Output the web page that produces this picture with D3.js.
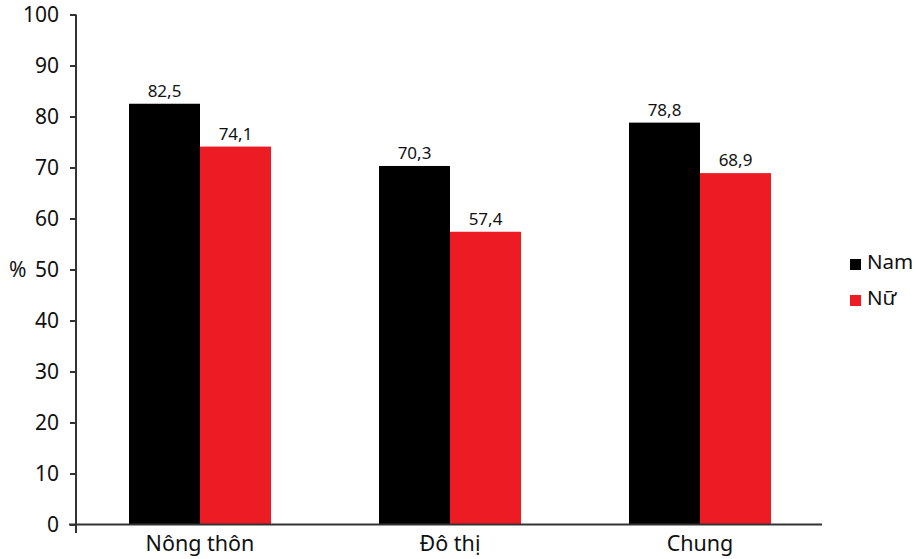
<!DOCTYPE html>
<html><head><meta charset="utf-8">
<script src="https://cdn.jsdelivr.net/npm/d3@7"></script>
<style>body{margin:0;background:#fff}text{font-family:"Noto Sans",sans-serif}</style>
</head><body><svg id="c" width="917" height="559"></svg>
<script>
const categories = ["Nông thôn", "Đô thị", "Chung"];
const seriesNames = ["Nam", "Nữ"];
const namValues = [82.5, 70.3, 78.8];
const nuValues = [74.1, 57.4, 68.9];
const valueLabels = [["82,5","74,1"],["70,3","57,4"],["78,8","68,9"]];
const yTicks = [0,10,20,30,40,50,60,70,80,90,100];
const colors = ["#000000", "#ED1C24"];

const svg = d3.select("#c");
const y = d3.scaleLinear().domain([0,100]).range([524.5,14.5]);
const x0 = d3.scaleBand().domain(categories).range([75,825]).paddingInner(0.432).paddingOuter(0.216);
const x1 = d3.scaleBand().domain(seriesNames).range([0,x0.bandwidth()]).padding(0);
const color = d3.scaleOrdinal().domain(seriesNames).range(colors);
const data = categories.map((c,i)=>({cat:c, vals:[namValues[i], nuValues[i]].map((v,j)=>({s:seriesNames[j], v, lab:valueLabels[i][j]}))}));

const g = svg.selectAll("g.grp").data(data).join("g").attr("transform", d=>`translate(${x0(d.cat)},0)`);
g.selectAll("rect").data(d=>d.vals).join("rect")
  .attr("x", d=>x1(d.s)).attr("width", x1.bandwidth())
  .attr("y", d=>y(d.v)).attr("height", d=>y(0)-y(d.v)).attr("fill", d=>color(d.s));
g.selectAll("text.lab").data(d=>d.vals).join("text").attr("class","lab")
  .attr("x", d=>x1(d.s)+x1.bandwidth()/2).attr("y", d=>y(d.v)-7)
  .attr("text-anchor","middle").attr("font-size",17).attr("fill","#111").text(d=>d.lab);

// y axis
const ya = svg.append("g").attr("transform","translate(76,0)")
  .call(d3.axisLeft(y).tickValues(yTicks).tickSize(6).tickPadding(11));
ya.select(".domain").remove();
ya.selectAll(".tick line").attr("stroke","#333").attr("stroke-width",2);
ya.selectAll(".tick text").attr("font-size",21).attr("fill","#111").attr("font-family","Noto Sans");
svg.append("line").attr("x1",76).attr("x2",76).attr("y1",14.5).attr("y2",533).attr("stroke","#333").attr("stroke-width",2);
// x axis
svg.append("line").attr("x1",69).attr("x2",822).attr("y1",y(0)).attr("y2",y(0)).attr("stroke","#333").attr("stroke-width",2);
const xa = svg.append("g").attr("transform",`translate(0,${y(0)})`).call(d3.axisBottom(x0).tickSize(0).tickPadding(11));
xa.select(".domain").remove();
xa.selectAll(".tick text").attr("font-size",21.5).attr("fill","#111").attr("font-family","Noto Sans");

svg.append("text").attr("x",9).attr("y",277).attr("font-size",21).attr("fill","#111").text("%");

// legend
const lg = svg.selectAll("g.leg").data(seriesNames).join("g").attr("class","leg")
  .attr("transform",(d,i)=>`translate(850,${259+i*36})`);
lg.append("rect").attr("width",11).attr("height",11).attr("fill",d=>color(d));
lg.append("text").attr("x",17).attr("y",10).attr("font-size",20.5).attr("fill","#111").text(d=>d);
</script></body></html>
